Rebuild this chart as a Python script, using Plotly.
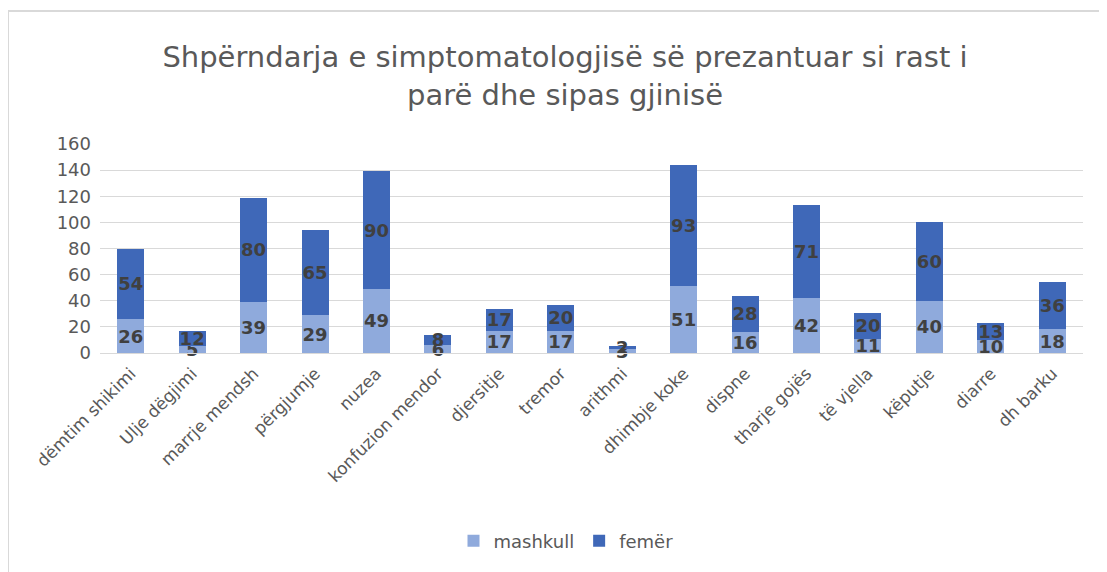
import plotly.graph_objects as go

categories = ["dëmtim shikimi", "Ulje dëgjimi", "marrje mendsh", "përgjumje", "nuzea",
              "konfuzion mendor", "djersitje", "tremor", "arithmi", "dhimbje koke",
              "dispne", "tharje gojës", "të vjella", "këputje", "diarre", "dh barku"]
mashkull = [26, 5, 39, 29, 49, 6, 17, 17, 3, 51, 16, 42, 11, 40, 10, 18]
femer = [54, 12, 80, 65, 90, 8, 17, 20, 2, 93, 28, 71, 20, 60, 13, 36]
y_ticks = [0, 20, 40, 60, 80, 100, 120, 140, 160]

FONT = "DejaVu Sans"
W, H = 1107, 572
L, R, T, B = 92, 32, 136, 227
PW, PH = W - L - R, H - T - B

fig = go.Figure()
for name, vals, col in [("mashkull", mashkull, "#8faadc"), ("femër", femer, "#3f68b8")]:
    fig.add_trace(go.Bar(x=categories, y=vals, name=name, marker=dict(color=col, line=dict(width=0)),
                         text=vals, textposition="inside", insidetextanchor="middle",
                         textangle=0, constraintext="none", cliponaxis=False,
                         textfont=dict(family=FONT, size=18, color="#404040", weight="bold")))

fig.update_layout(
    barmode="stack", bargap=0.56,
    width=W, height=H,
    paper_bgcolor="white", plot_bgcolor="white",
    margin=dict(l=L, r=R, t=T, b=B, autoexpand=False),
    title=dict(text="Shpërndarja e simptomatologjisë së prezantuar si rast i<br>parë dhe sipas gjinisë",
               x=(565 - 8) / W, xanchor="center", yref="container", y=1 - 59 / H, yanchor="middle",
               font=dict(family=FONT, size=29, color="#595959")),
    font=dict(family=FONT, color="#595959"),
    legend=dict(orientation="h", x=(566 - 8 - L) / PW, xanchor="center", y=-(533 - (H - B)) / PH,
                yanchor="middle", font=dict(family=FONT, size=18, color="#595959"),
                traceorder="normal"),
    yaxis=dict(range=[0, 160], tickvals=y_ticks, showgrid=True, gridcolor="#d9d9d9",
               zeroline=False, tickfont=dict(size=18, color="#595959"), ticks="", ticklen=0,
               ticklabelstandoff=8),
    xaxis=dict(tickangle=-45, tickfont=dict(size=17, color="#595959"), showline=True,
               linecolor="#d9d9d9", ticks="", ticklabelstandoff=3),
)
# chart frame (top and left edges)
fig.add_shape(type="line", xref="paper", yref="paper", x0=(0 - L) / PW, x1=(0 - L) / PW,
              y0=-(H - T) / PH, y1=1 + (T - 2) / PH, line=dict(color="#d9d9d9", width=2))
fig.add_shape(type="line", xref="paper", yref="paper", x0=(0 - L) / PW, x1=(W - L) / PW,
              y0=1 + (T - 3) / PH, y1=1 + (T - 3) / PH, line=dict(color="#d9d9d9", width=2))
fig.write_html("out.html")
